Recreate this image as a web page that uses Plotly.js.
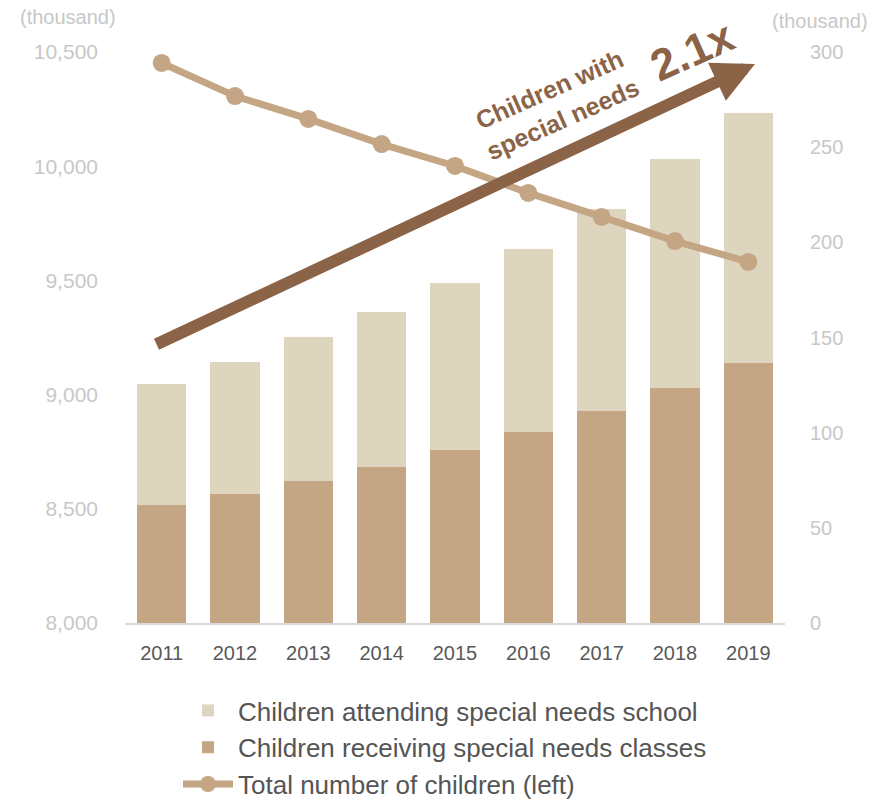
<!DOCTYPE html>
<html>
<head>
<meta charset="utf-8">
<script src="https://cdn.plot.ly/plotly-3.0.1.min.js"></script>
<style>html,body{margin:0;padding:0;background:#fff;}#chart{width:887px;height:800px;}</style>
</head>
<body>
<div id="chart"></div>
<script>
const years = ['2011','2012','2013','2014','2015','2016','2017','2018','2019'];
const specialClasses = [62.0, 67.8, 74.6, 82.0, 90.9, 100.4, 111.4, 123.5, 136.6];
const specialSchool = [63.6, 69.3, 75.7, 81.4, 87.8, 96.1, 106.1, 120.3, 131.4];
const totalChildren = [10452, 10307, 10207, 10097, 10001, 9883, 9778, 9672, 9581];
const leftTicks = [8000, 8500, 9000, 9500, 10000, 10500];
const rightTicks = [0, 50, 100, 150, 200, 250, 300];

const W = 887, H = 800;
const L = 125, R = 102, T = 52, B = 177;
const pw = W - L - R, ph = H - T - B;
function px(x){ return (x - L) / pw; }
function py(y){ return (H - B - y) / ph; }

const font = 'Liberation Sans, Arial, sans-serif';
const brown = '#8B6347';

const traces = [
  {type:'bar', x: years, y: specialClasses, name:'Children receiving special needs classes',
   marker:{color:'#C4A584'}, yaxis:'y', legendrank:2, hoverinfo:'skip'},
  {type:'bar', x: years, y: specialSchool, name:'Children attending special needs school',
   marker:{color:'#DDD5BE'}, yaxis:'y', legendrank:1, hoverinfo:'skip'},
  {type:'scatter', mode:'lines+markers', x: years, y: totalChildren, name:'Total number of children (left)',
   line:{color:'#C4A584', width:7}, marker:{color:'#C4A584', size:18}, yaxis:'y2', legendrank:3, hoverinfo:'skip'}
];

const layout = {
  width: W, height: H,
  margin: {l: L, r: R, t: T, b: B, autoexpand: false},
  paper_bgcolor: '#fff', plot_bgcolor: '#fff',
  barmode: 'stack', bargap: 0.33,
  font: {family: font},
  showlegend: true,
  legend: {orientation:'v', traceorder:'normal', x: px(178), y: py(687), xanchor:'left', yanchor:'top',
           itemwidth: 50, font:{size:26, color:'#555555', family: font}, tracegroupgap: 0},
  xaxis: {type:'category', range:[-0.5, 8.5], showline:true, linecolor:'#d9d9d9', linewidth:2, ticks:'', showgrid:false,
          tickangle:0, tickfont:{size:20, color:'#595959'}, ticklabelstandoff: 11},
  yaxis: {side:'right', range:[0,300], tickvals: rightTicks, showgrid:false, zeroline:false, showline:false,
          tickfont:{size:20, color:'#c8c8c8'}, ticks:'', ticklabelstandoff: 24},
  yaxis2: {side:'left', overlaying:'y', range:[8000,10500], tickvals: leftTicks, tickformat:',d',
           showgrid:false, zeroline:false, showline:false, tickfont:{size:21, color:'#c8c8c8'}, ticks:'', ticklabelstandoff: 26},
  annotations: [
    {xref:'paper', yref:'paper', x: px(755), y: py(64), axref:'pixel', ayref:'pixel', ax: 155-755, ay: 345-64,
     text:'', showarrow:true, arrowhead:2, arrowsize:0.7, arrowwidth:12, arrowcolor: brown},
    {xref:'paper', yref:'paper', x: px(556), y: py(104), xanchor:'center', yanchor:'middle',
     text:'Children with<br>special needs', showarrow:false,
     textangle:-24, font:{size:25, color: brown, family: font, weight:'bold'}},
    {xref:'paper', yref:'paper', x: px(692), y: py(50), xanchor:'center', yanchor:'middle',
     text:'2.1x', showarrow:false,
     textangle:-24, font:{size:44, color: brown, family: font, weight:'bold'}},
    {xref:'paper', yref:'paper', x: px(68), y: py(17), xanchor:'center', yanchor:'middle',
     text:'(thousand)', showarrow:false, font:{size:20, color:'#c8c8c8', family: font}},
    {xref:'paper', yref:'paper', x: px(820), y: py(21), xanchor:'center', yanchor:'middle',
     text:'(thousand)', showarrow:false, font:{size:20, color:'#c8c8c8', family: font}}
  ]
};

Plotly.newPlot('chart', traces, layout, {displayModeBar:false, staticPlot:true});
</script>
</body>
</html>
